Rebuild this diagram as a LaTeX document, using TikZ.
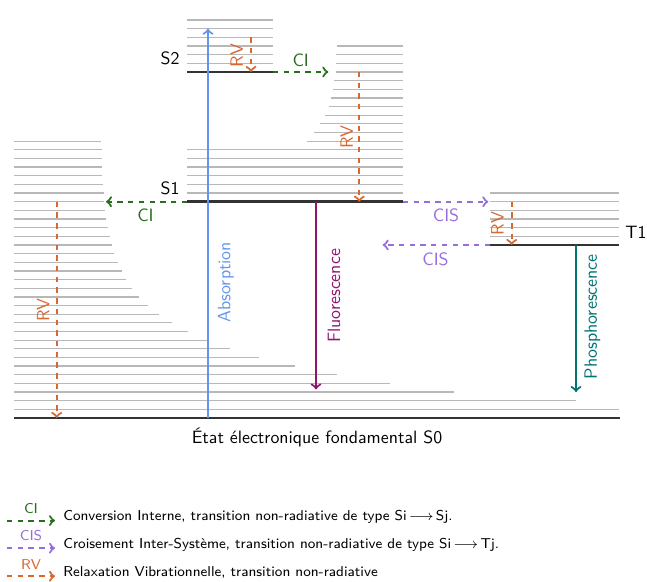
\documentclass[tikz,border=0pt]{standalone}
\usepackage{amsmath}
\definecolor{absblue}{RGB}{100,149,237}
\definecolor{fluopurple}{RGB}{145,20,115}
\definecolor{phosteal}{RGB}{0,115,115}
\definecolor{cisviolet}{RGB}{150,110,220}
\definecolor{rvorange}{RGB}{214,104,48}
\definecolor{cigreen}{RGB}{40,110,30}
\begin{document}
\begin{tikzpicture}[x=0.56pt, y=4.844pt, font=\sffamily, line join=round, >=to,
    vib/.style={black!28, line width=0.7pt},
    niveau/.style={black!80, line width=1.6pt},
    ci/.style={cigreen, dashed, very thick, ->},
    cis/.style={cisviolet, dashed, very thick, ->},
    rv/.style={rvorange, dashed, very thick, ->},
    ray/.style={very thick, ->},
    legende/.style={font=\sffamily\footnotesize}]
        \def\yS{25}
        \def\ySS{40}
        \def\yT{20}
        \useasboundingbox (0,-18.96) rectangle (647,48.32);
        \foreach \e [count=\n] in {619,576,454,390,337,295,259,230,207,188,172,159,148,139,132,126,122,118,114,112,110,108,106,105,104,104,103,102,102,102,102,101}
            \draw[vib] (14,\n) -- (\e,\n);
        \foreach \s [count=\n] in {187,187,187,187,187,187,306.7,314,320,325,329,331,333,334.3,335.7,336,336.3,337.3}
            \draw[vib] (\s,\yS+\n) -- (403,\yS+\n);
        \foreach \n in {1,...,6} {
            \draw[vib] (187,\ySS+\n) -- (273,\ySS+\n);
            \draw[vib] (490,\yT+\n) -- (619,\yT+\n);
        }
        \draw[niveau] (14,0) coordinate (S0g) -- (620,0) coordinate (S0d);
        \draw[niveau] (187,\yS) coordinate (S1g) -- (403,\yS) coordinate (S1d);
        \draw[niveau] (187,\ySS) coordinate (S2g) -- (273,\ySS) coordinate (S2d);
        \draw[niveau] (490,\yT) coordinate (T1g) -- (619,\yT) coordinate (T1d);
        \node (lS2) at (170,41.6) {S2};
        \node (lS1) at (170,26.6) {S1};
        \node (lT1) at (636,21.5) {T1};
        \node (lS0) at (317,-2.25) {État électronique fondamental S0};
        \draw[ray, absblue] (208,0) -- (208,45);
        \node[absblue, rotate=90] (lAbs) at (226,15.7) {Absorption};
        \draw[ray, fluopurple] (316,\yS) -- (316,3.3);
        \node[fluopurple, rotate=90] (lFluo) at (334,14.1) {Fluorescence};
        \draw[ray, phosteal] (576,\yT) -- (576,3);
        \node[phosteal, rotate=90] (lPhos) at (592.5,11.7) {Phosphorescence};
        \draw[rv] (251,44) -- (251,\ySS);
        \node[rvorange, rotate=90] (lRVa) at (236.7,41.9) {RV};
        \draw[rv] (359.3,\ySS) -- (359.3,\yS);
        \node[rvorange, rotate=90] (lRVb) at (346.7,32.5) {RV};
        \draw[rv] (56.7,\yS) -- (56.7,0);
        \node[rvorange, rotate=90] (lRVc) at (43.3,12.5) {RV};
        \draw[rv] (511.7,\yS) -- (511.7,\yT);
        \node[rvorange, rotate=90] (lRVd) at (497.5,22.5) {RV};
        \draw[ci] (S2d) -- (328.3,\ySS);
        \node[cigreen] (lCIa) at (300.7,41.4) {CI};
        \draw[ci] (S1g) -- (106,\yS);
        \node[cigreen] (lCIb) at (145.5,23.4) {CI};
        \draw[cis] (S1d) -- (488.3,\yS);
        \node[cisviolet] (lCISa) at (446,23.4) {CIS};
        \draw[cis] (T1g) -- (382.7,\yT);
        \node[cisviolet] (lCISb) at (435.5,18.4) {CIS};
        \draw[ci] (7,-11.86) -- (55,-11.86) node[legende, midway, above] (legCI) {CI};
        \node[legende, anchor=base west] (txtCI) at (57,-11.86) {Conversion Interne, transition non-radiative de type Si\,$\longrightarrow$\,Sj.};
        \draw[cis] (7,-15.05) -- (55,-15.05) node[legende, midway, above] (legCIS) {CIS};
        \node[legende, anchor=base west] (txtCIS) at (57,-15.05) {Croisement Inter-Système, transition non-radiative de type Si\,$\longrightarrow$\,Tj.};
        \draw[rv] (7,-18.3) -- (55,-18.3) node[legende, midway, above] (legRV) {RV};
        \node[legende, anchor=base west] (txtRV) at (57,-18.3) {Relaxation Vibrationnelle, transition non-radiative};
\end{tikzpicture}
\end{document}
